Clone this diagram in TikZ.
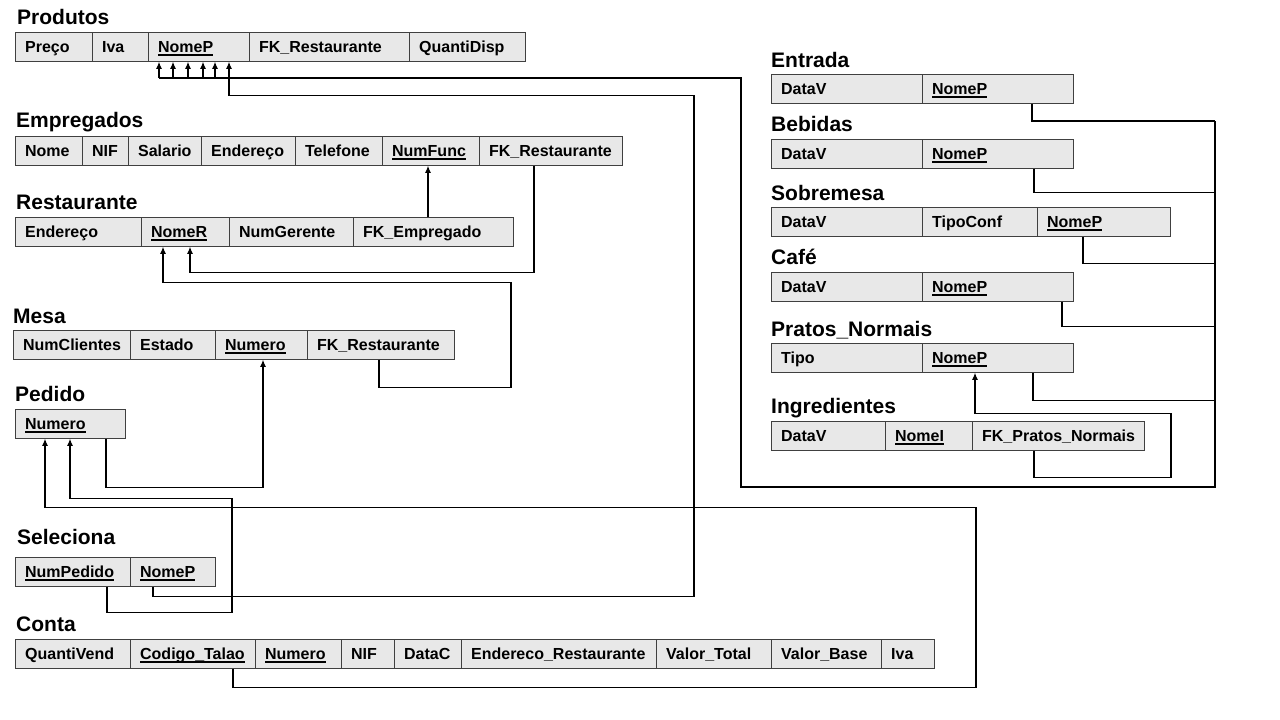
\documentclass[tikz,border=0pt]{standalone}
\usepackage{fontspec}
\setmainfont{Liberation Sans}
\usetikzlibrary{arrows.meta}
\newcommand\keyu[1]{\setbox0\hbox{#1}\rlap{\rule[-3.5pt]{\wd0}{1.5pt}}\box0}
\newcommand\cel[5]{\pgfmathsetmacro\tw{#4-19}\node[cell,text width=\tw pt] (#1) at (#2,#3) {#5};}
\begin{document}
\begin{tikzpicture}[x=1pt,y=-1pt,
  cell/.style={draw=black!75, line width=1.3pt, fill=black!9, anchor=north west,
    inner xsep=9.5pt, inner ysep=0pt, minimum height=28.5pt, text height=12pt, text depth=1pt,
    align=left, font=\fontsize{16}{19}\selectfont\bfseries},
  title/.style={anchor=base west, inner sep=0pt, font=\fontsize{21}{24}\selectfont\bfseries},
  ln/.style={line width=1.1pt},
  fk/.style={line width=1.1pt, -{Latex[length=7pt,width=6pt]}}]
\useasboundingbox[fill=white] (0,0) rectangle (1280,720);

% titles
\node[title] (tProd) at (17,24) {Produtos};
\node[title] (tEmp) at (16,127) {Empregados};
\node[title] (tRest) at (16,209) {Restaurante};
\node[title] (tMesa) at (13,323) {Mesa};
\node[title] (tPed) at (15,401) {Pedido};
\node[title] (tSel) at (17,544) {Seleciona};
\node[title] (tConta) at (16,631) {Conta};
\node[title] (tEnt) at (771,67) {Entrada};
\node[title] (tBeb) at (771,131) {Bebidas};
\node[title] (tSob) at (771,200) {Sobremesa};
\node[title] (tCafe) at (771,264) {Café};
\node[title] (tPrat) at (771,336) {Pratos\_Normais};
\node[title] (tIng) at (771,413) {Ingredientes};

% Produtos
\cel{pPreco}{15}{32}{77}{Preço}
\cel{pIva}{92}{32}{56}{Iva}
\cel{pNomeP}{148}{32}{101}{\keyu{NomeP}}
\cel{pFK}{249}{32}{160}{FK\_Restaurante}
\cel{pQuanti}{409}{32}{116}{QuantiDisp}
% Empregados
\cel{eNome}{15}{136}{67}{Nome}
\cel{eNIF}{82}{136}{46}{NIF}
\cel{eSal}{128}{136}{73}{Salario}
\cel{eEnd}{201}{136}{94}{Endereço}
\cel{eTel}{295}{136}{87}{Telefone}
\cel{eNum}{382}{136}{97}{\keyu{NumFunc}}
\cel{eFK}{479}{136}{143}{FK\_Restaurante}
% Restaurante
\cel{rEnd}{15}{217}{126}{Endereço}
\cel{rNomeR}{141}{217}{88}{\keyu{NomeR}}
\cel{rNumG}{229}{217}{124}{NumGerente}
\cel{rFK}{353}{217}{160}{FK\_Empregado}
% Mesa
\cel{mNC}{13}{330}{117}{NumClientes}
\cel{mEst}{130}{330}{85}{Estado}
\cel{mNum}{215}{330}{92}{\keyu{Numero}}
\cel{mFK}{307}{330}{147}{FK\_Restaurante}
% Pedido
\cel{pdNum}{15}{409}{110}{\keyu{Numero}}
% Seleciona
\cel{sNP}{15}{557}{115}{\keyu{NumPedido}}
\cel{sNomeP}{130}{557}{85}{\keyu{NomeP}}
% Conta
\cel{cQ}{15}{639}{115}{QuantiVend}
\cel{cCod}{130}{639}{125}{\keyu{Codigo\_Talao}}
\cel{cNum}{255}{639}{86}{\keyu{Numero}}
\cel{cNIF}{341}{639}{53}{NIF}
\cel{cData}{394}{639}{67}{DataC}
\cel{cEnd}{461}{639}{195}{Endereco\_Restaurante}
\cel{cVT}{656}{639}{115}{Valor\_Total}
\cel{cVB}{771}{639}{110}{Valor\_Base}
\cel{cIva}{881}{639}{53}{Iva}
% Entrada
\cel{enD}{771}{74}{151}{DataV}
\cel{enN}{922}{74}{151}{\keyu{NomeP}}
% Bebidas
\cel{beD}{771}{139}{151}{DataV}
\cel{beN}{922}{139}{151}{\keyu{NomeP}}
% Sobremesa
\cel{soD}{771}{207}{151}{DataV}
\cel{soT}{922}{207}{115}{TipoConf}
\cel{soN}{1037}{207}{133}{\keyu{NomeP}}
% Cafe
\cel{caD}{771}{272}{151}{DataV}
\cel{caN}{922}{272}{151}{\keyu{NomeP}}
% Pratos_Normais
\cel{prT}{771}{343}{151}{Tipo}
\cel{prN}{922}{343}{151}{\keyu{NomeP}}
% Ingredientes
\cel{inD}{771}{421}{114}{DataV}
\cel{inN}{885}{421}{87}{\keyu{NomeI}}
\cel{inFK}{972}{421}{172}{FK\_Pratos\_Normais}

% connectors
\draw[fk] ([xshift=75pt]rFK.north west) -- ([xshift=75pt]rFK.north west |- eNum.south);
\draw[fk] ([xshift=55pt]eFK.south west) -- ++(0,107) -| ([xshift=49pt]rNomeR.south west);
\draw[fk] ([xshift=72pt]mFK.south west) -- ++(0,28) -- ++(132,0) -- ++(0,-105) -| ([xshift=22pt]rNomeR.south west);
\draw[fk] ([xshift=91pt]pdNum.south west) -- ++(0,49) -| ([xshift=48pt]mNum.south west);
\draw[fk] ([xshift=92pt]sNP.south west) -- ++(0,26) -- ++(125,0) -- ++(0,-114) -| ([xshift=55pt]pdNum.south west);
\draw[fk] ([xshift=103pt]cCod.south west) -- ++(0,19) -- ++(743,0) -- ++(0,-180) -| ([xshift=30pt]pdNum.south west);
\draw[fk] ([xshift=23pt]sNomeP.south west) -- ++(0,10) -- ++(541,0) -- ++(0,-501) -| ([xshift=81pt]pNomeP.south west);

% sub-types of Produtos
\coordinate (busT) at (1215,121);
\coordinate (busB) at (1215,487);
\coordinate (busL) at (741,487);
\coordinate (busU) at (741,78);
\draw[ln] ([xshift=110pt]enN.south west) |- (busT);
\draw[ln] ([xshift=112pt]beN.south west) -- ++(0,24) -- ++(180,0);
\draw[ln] ([xshift=46pt]soN.south west) -- ++(0,27) -- ++(132,0);
\draw[ln] ([xshift=140pt]caN.south west) -- ++(0,25) -- ++(153,0);
\draw[ln] ([xshift=111pt]prN.south west) -- ++(0,28) -- ++(182,0);
\draw[ln] (busT) -- (busB) -- (busL) -- (busU) -- ([xshift=11pt]pNomeP.south west |- busU);
\foreach \s in {11,25,40,55,67}
  \draw[fk] ([xshift=\s pt]pNomeP.south west |- busU) -- ([xshift=\s pt]pNomeP.south west);
\draw[fk] ([xshift=62pt]inFK.south west) -- ++(0,27) -- ++(137,0) -- ++(0,-64) -| ([xshift=53pt]prN.south west);
\end{tikzpicture}
\end{document}
